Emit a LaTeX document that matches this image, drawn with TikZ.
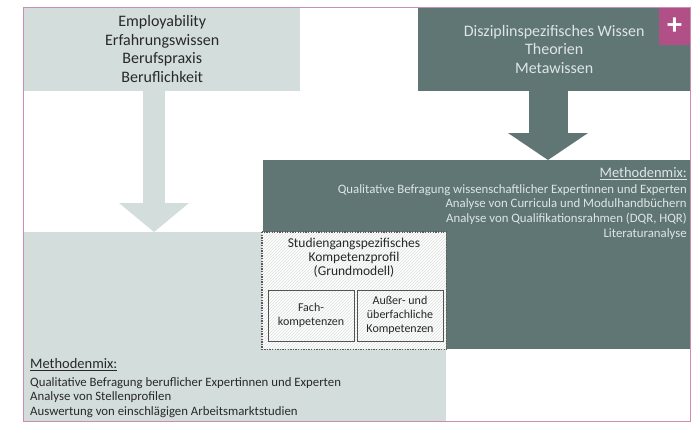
\documentclass[tikz,border=0pt]{standalone}
\usepackage{fontspec}
\setmainfont{Carlito}
\usepackage{xcolor}
\usetikzlibrary{arrows.meta}
\usetikzlibrary{calc}
\usetikzlibrary{patterns}

\definecolor{paleteal}{RGB}{211,222,220}
\definecolor{slate}{RGB}{96,118,117}
\definecolor{plusred}{RGB}{176,80,135}
\definecolor{framepink}{RGB}{205,140,178}
\definecolor{inktext}{RGB}{40,40,40}
\definecolor{paletext}{RGB}{222,230,229}

\begin{document}
\begin{tikzpicture}[x=1pt, y=-1pt,
    lightbox/.style={fill=paleteal, inner sep=0pt, anchor=north west, text=inktext},
    darkbox/.style={fill=slate, inner sep=0pt, anchor=north west, text=paletext},
    headtext/.style={font=\fontsize{16}{18.5}\selectfont, align=center},
    methodtitle/.style={font=\fontsize{14.5}{16}\selectfont, inner sep=0pt},
    methodlist/.style={font=\fontsize{12.8}{14.7}\selectfont, inner sep=0pt},
    smallbox/.style={draw=inktext!80, line width=0.8pt, minimum width=86pt, minimum height=51pt,
      inner sep=0pt, align=center, text=inktext, font=\fontsize{12}{14}\selectfont},
    lightarrow/.style={draw=paleteal, line width=22pt,
      -{Triangle[width=70pt, length=29pt, line width=0pt]}},
    darkarrow/.style={draw=slate, line width=39pt,
      -{Triangle[width=80pt, length=27pt, line width=0pt]}}]
  \useasboundingbox (0,0) rectangle (696,423);

  % top boxes
  \node[lightbox, headtext, minimum width=276pt, minimum height=84pt] (practice) at (24,7)
    {Employability\\Erfahrungswissen\\Berufspraxis\\Beruflichkeit};
  \node[darkbox, headtext, minimum width=272pt, minimum height=84pt] (theory) at (418,7)
    {Disziplinspezifisches Wissen\\Theorien\\Metawissen};
  \node[fill=plusred, text=white, inner sep=0pt, anchor=north west, minimum width=31pt,
    minimum height=38pt, font=\fontsize{30}{30}\selectfont\bfseries] (plus) at (659,7) {+};

  % lower areas
  \node[darkbox, minimum width=427pt, minimum height=189pt] (expert) at (263,160) {};
  \node[lightbox, minimum width=422pt, minimum height=189pt] (field) at (24,232) {};

  % profile in the overlap
  \node[anchor=north west, inner sep=0pt, minimum width=184pt, minimum height=117pt,
    preaction={fill=white!96!paleteal}, pattern=north east lines, pattern color=gray!25] (profile) at (262,232) {};
  \draw[gray!70!black, line width=1.3pt, dash pattern=on 1.3pt off 1.3pt]
    (profile.north west) rectangle (profile.south east);
  \node[anchor=north, align=center, inner sep=0pt, text=inktext,
    font=\fontsize{13.5}{14.2}\selectfont] (profiletitle) at (354,238)
    {Studiengangspezifisches\\Kompetenzprofil\\(Grundmodell)};
  \node[smallbox] (fach) at (311,315.5) {Fach-\\kompetenzen};
  \node[smallbox] (ausser) at (400,315.5) {Außer- und\\überfachliche\\Kompetenzen};

  % arrows
  \coordinate (lx) at (154,0);
  \coordinate (dx) at (548,0);
  \draw[lightarrow] (practice.south -| lx) -- (field.north -| lx);
  \draw[darkarrow] (theory.south -| dx) -- (expert.north -| dx);

  % methods
  \node[methodtitle, text=paletext, anchor=east] (titleR) at (687,174) {\underline{Methodenmix:}};
  \node[methodlist, text=paletext, anchor=north east, align=right] (listR) at (687,184)
    {Qualitative Befragung wissenschaftlicher Expertinnen und Experten\\
     Analyse von Curricula und Modulhandbüchern\\
     Analyse von Qualifikationsrahmen (DQR, HQR)\\
     Literaturanalyse};
  \node[methodtitle, text=inktext, anchor=west] (titleL) at (30,365) {\underline{Methodenmix:}};
  \node[methodlist, text=inktext, anchor=north west, align=left] (listL) at (30,377)
    {Qualitative Befragung beruflicher Expertinnen und Experten\\
     Analyse von Stellenprofilen\\
     Auswertung von einschlägigen Arbeitsmarktstudien};

  % frame
  \draw[framepink, line width=0.8pt] (23,7) rectangle (690,421);
\end{tikzpicture}
\end{document}
